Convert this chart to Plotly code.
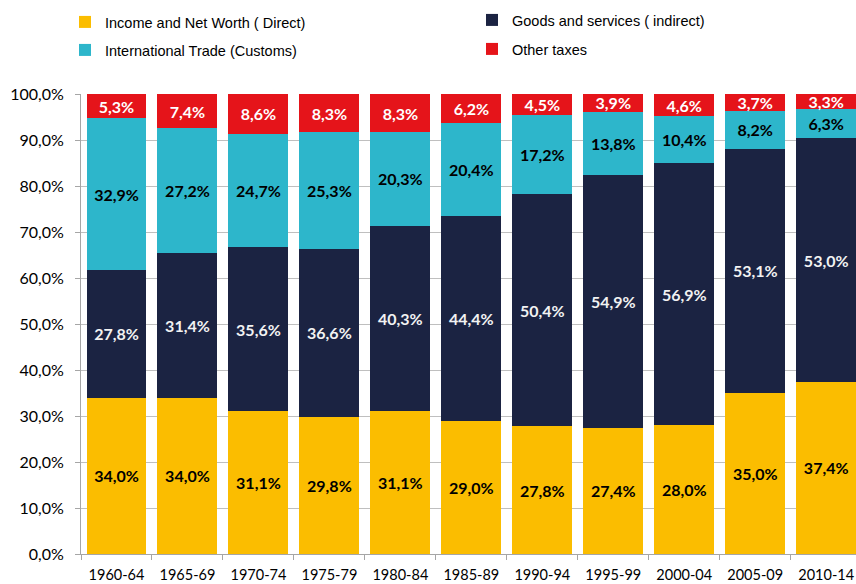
import plotly.graph_objects as go

periods = ["1960-64", "1965-69", "1970-74", "1975-79", "1980-84", "1985-89",
           "1990-94", "1995-99", "2000-04", "2005-09", "2010-14"]
direct = [34.0, 34.0, 31.1, 29.8, 31.1, 29.0, 27.8, 27.4, 28.0, 35.0, 37.4]
indirect = [27.8, 31.4, 35.6, 36.6, 40.3, 44.4, 50.4, 54.9, 56.9, 53.1, 53.0]
customs = [32.9, 27.2, 24.7, 25.3, 20.3, 20.4, 17.2, 13.8, 10.4, 8.2, 6.3]
other = [5.3, 7.4, 8.6, 8.3, 8.3, 6.2, 4.5, 3.9, 4.6, 3.7, 3.3]

series = [
    ("Income and Net Worth ( Direct)", direct, "#FBBD00", "#000000", "legend"),
    ("Goods and services ( indirect)", indirect, "#1B2342", "#F2F2F2", "legend2"),
    ("International Trade (Customs)", customs, "#2DB6CB", "#000000", "legend3"),
    ("Other taxes", other, "#E5141A", "#FFFFFF", "legend4"),
]

ytickvals = list(range(0, 101, 10))
yticktext = [f"{v:.1f}%".replace(".", ",") for v in ytickvals]


def fmt(v):
    return f"{v:.1f}%".replace(".", ",")


fig = go.Figure()
for name, vals, color, tcolor, leg in series:
    fig.add_trace(go.Bar(
        x=periods, y=vals, name=name,
        legend=leg,
        marker=dict(color=color, line=dict(width=0)),
        text=[fmt(v) for v in vals],
        textposition="inside",
        insidetextanchor="middle",
        textangle=0,
        textfont=dict(family="Lato", size=16, color=tcolor, weight="bold"),
        hoverinfo="skip",
    ))

legfont = dict(family="Liberation Sans", size=14.5, color="#000000")
W = 775.0
H = 460.0


def leg(text_x, center_y):
    return dict(
        orientation="h",
        x=(text_x - 40 - 81) / W, xanchor="left",
        y=1 + (94 - center_y) / H, yanchor="middle",
        font=legfont, bgcolor="rgba(0,0,0,0)", borderwidth=0,
        itemclick=False, itemdoubleclick=False,
    )


fig.update_layout(
    width=856, height=584,
    barmode="stack",
    bargap=0.155,
    plot_bgcolor="white",
    paper_bgcolor="white",
    margin=dict(l=81, r=0, t=94, b=30, pad=0, autoexpand=False),
    uniformtext=dict(minsize=16, mode="show"),
    showlegend=True,
    legend=leg(105, 22),
    legend2=leg(512, 20),
    legend3=leg(105, 50),
    legend4=leg(512, 49),
    xaxis=dict(
        type="category",
        range=[-0.5, 10.42],
        automargin=False,
        showline=True, linecolor="#A6A6A6", linewidth=1,
        ticks="outside", tickson="boundaries", ticklen=5, tickcolor="#A6A6A6",
        ticklabelstandoff=8,
        showgrid=False,
        tickfont=dict(family="Lato", size=14.5, color="#000000"),
    ),
    yaxis=dict(
        range=[0, 100],
        automargin=False,
        tickvals=ytickvals, ticktext=yticktext,
        showline=True, linecolor="#A6A6A6", linewidth=1,
        ticks="outside", ticklen=5, tickcolor="#A6A6A6",
        ticklabelstandoff=8,
        showgrid=True, gridcolor="#BFBFBF", gridwidth=1,
        zeroline=False,
        tickfont=dict(family="Lato", size=16, color="#000000"),
    ),
)

fig.write_html(
    "out.html",
    config={"displayModeBar": False},
    post_script="document.body.style.margin='0';document.body.style.overflow='hidden';",
)
